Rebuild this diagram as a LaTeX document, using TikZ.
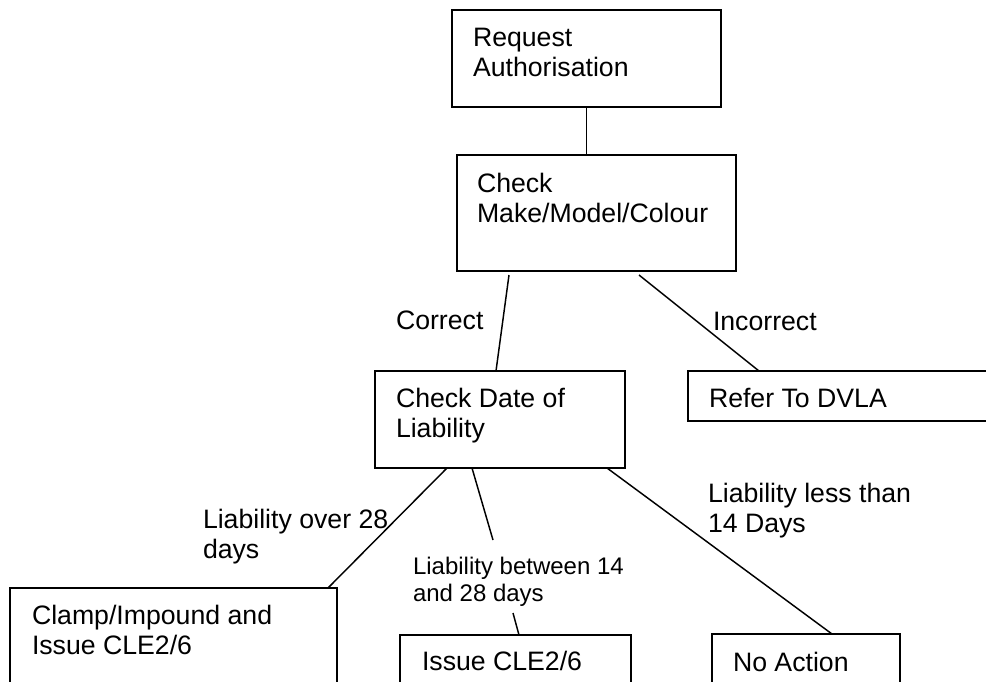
\documentclass[tikz,border=0pt]{standalone}
\usepackage{fontspec}
\setmainfont{Liberation Sans}
\usetikzlibrary{calc}
\begin{document}
\begin{tikzpicture}[x=0.75pt,y=-0.75pt,
  box/.style={draw, anchor=north west, inner sep=0pt, outer sep=0pt, line width=1.1pt},
  txt/.style={anchor=north west, inner sep=0pt, outer sep=0pt, align=left, font=\fontsize{20}{22.5}\selectfont},
  smalltxt/.style={anchor=north west, inner sep=0pt, outer sep=0pt, align=left, font=\fontsize{18}{20.25}\selectfont},
  conn/.style={draw, line width=1.1pt}]
\useasboundingbox (0,0) rectangle (986,682);
\fill[white] (0,0) rectangle (986,682);
\clip (0,0) rectangle (986,682);

% boxes
\node[box, minimum width=269*0.75pt, minimum height=97*0.75pt] (req) at (452,10) {};
\node[box, minimum width=279*0.75pt, minimum height=116*0.75pt] (chk) at (457,155) {};
\node[box, minimum width=250*0.75pt, minimum height=97*0.75pt] (cdl) at (375,371) {};
\node[box, minimum width=330*0.75pt, minimum height=50*0.75pt] (ref) at (688,371) {};
\node[box, minimum width=327*0.75pt, minimum height=130*0.75pt] (clamp) at (10,588) {};
\node[box, minimum width=231*0.75pt, minimum height=100*0.75pt] (issue) at (400,635) {};
\node[box, minimum width=188*0.75pt, minimum height=100*0.75pt] (noact) at (712,634) {};

% box texts
\node[txt] (treq) at (473,28) {Request\\Authorisation};
\node[txt] (tchk) at (477,173) {Check\\Make/Model/Colour};
\node[txt] (tcdl) at (396,388) {Check Date of\\Liability};
\node[txt] (tref) at (709,388) {Refer To DVLA};
\node[txt] (tclamp) at (32,605) {Clamp/Impound and\\Issue CLE2/6};
\node[txt] (tissue) at (422,651) {Issue CLE2/6};
\node[txt] (tnoact) at (733,652) {No Action};

% connector labels
\node[txt] (lcor) at (396,311) {Correct};
\node[txt] (linc) at (713,312) {Incorrect};
\node[txt] (lover) at (203,509) {Liability over 28\\days};
\node[txt] (lless) at (708,483) {Liability less than\\14 Days};
\node[smalltxt] (lbw) at (413,557) {Liability between 14\\and 28 days};

% connectors
\path[conn] (req.south) -- (req.south |- chk.north);
\path[conn] ($(chk.south west)+(52,4)$) -- ($(cdl.north west)+(121,0)$);
\path[conn] ($(chk.south west)+(182,4)$) -- ($(ref.north west)+(71,0)$);
\path[conn] ($(cdl.south west)+(72,0)$) -- ($(clamp.north west)+(318,0)$);
\path[conn] ($(cdl.south west)+(97,0)$) -- ($(lbw.north west)+(80,-17)$);
\path[conn] ($(issue.north west)+(113,-22)$) -- ($(issue.north west)+(119,0)$);
\path[conn] ($(cdl.south west)+(232,0)$) -- ($(noact.north west)+(120,0)$);
\end{tikzpicture}
\end{document}
